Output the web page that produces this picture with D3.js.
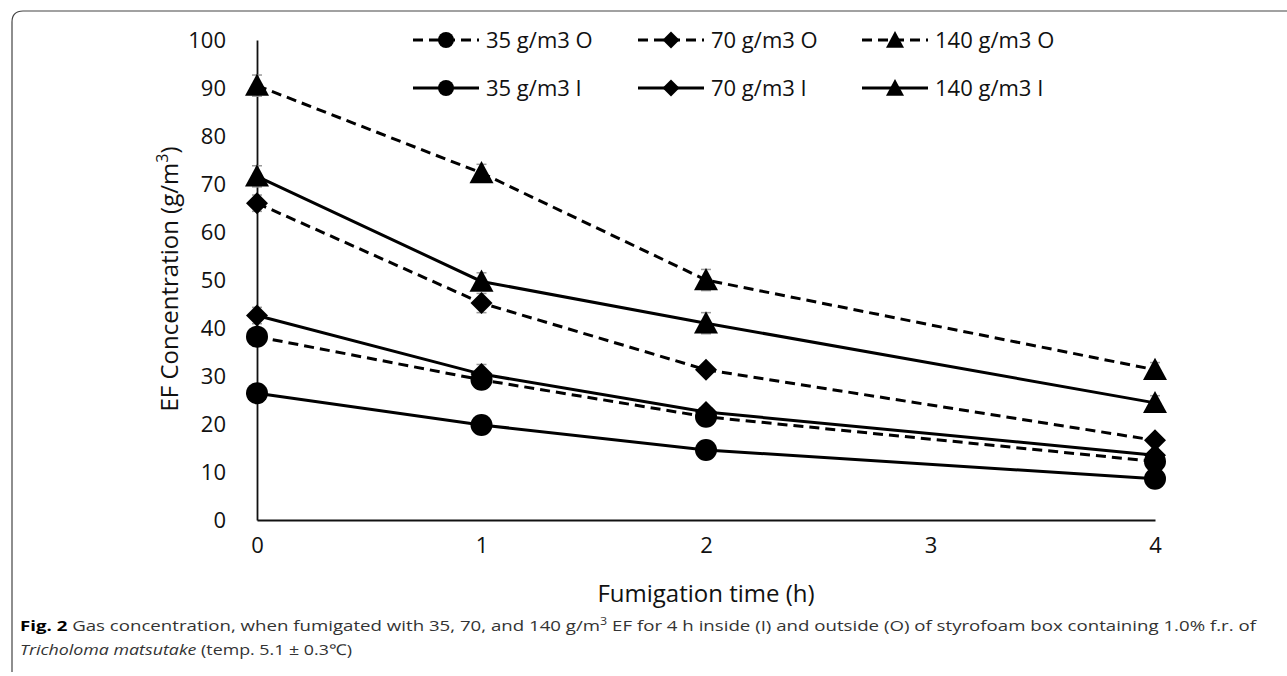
<!DOCTYPE html>
<html>
<head>
<meta charset="utf-8">
<script src="https://cdn.jsdelivr.net/npm/d3@7"></script>
<style>
  body { margin: 0; background: #fff; }
  svg { display: block; font-family: "Open Sans", sans-serif; }
</style>
</head>
<body>
<div class="chart"></div>
<script>
// fumigation time (h)
const times = [0, 1, 2, 4];
const xTicks = [0, 1, 2, 3, 4];
const yTicks = [0, 10, 20, 30, 40, 50, 60, 70, 80, 90, 100];

// EF concentration (g/m3)
const o35 = [38.2, 29.2, 21.5, 12.2];
const o70 = [66.0, 45.2, 31.3, 16.6];
const o140 = [90.5, 72.3, 50.0, 31.3];
const i35 = [26.4, 19.8, 14.6, 8.6];
const i70 = [42.6, 30.4, 22.5, 13.5];
const i140 = [71.6, 49.7, 41.0, 24.4];

// std error bars
const e35 = [0.8, 0.8, 0.6, 0.5];
const e70 = [1.7, 2.0, 1.0, 0.8];
const e140 = [2.2, 1.8, 2.2, 1.5];

const seriesNames = ["35 g/m3 O", "70 g/m3 O", "140 g/m3 O", "35 g/m3 I", "70 g/m3 I", "140 g/m3 I"];

const series = [
  {name: seriesNames[0], vals: o35, err: e35, shape: "circle", dash: true},
  {name: seriesNames[1], vals: o70, err: e70, shape: "diamond", dash: true},
  {name: seriesNames[2], vals: o140, err: e140, shape: "triangle", dash: true},
  {name: seriesNames[3], vals: i35, err: e35, shape: "circle", dash: false},
  {name: seriesNames[4], vals: i70, err: e70, shape: "diamond", dash: false},
  {name: seriesNames[5], vals: i140, err: e140, shape: "triangle", dash: false}
];

const width = 1287, height = 676;

const svg = d3.select(".chart").append("svg")
  .attr("width", width)
  .attr("height", height);

// frame of the figure panel (top + left edges, rounded corners)
svg.append("path")
  .attr("d", "M12,672 L12,22 Q12,11 23,11 L1287,11")
  .attr("fill", "none")
  .attr("stroke", "#444")
  .attr("stroke-width", 1.2);

const xScale = d3.scaleLinear()
  .domain([0, 4])
  .range([257, 1155]);

const yScale = d3.scaleLinear()
  .domain([0, 100])
  .range([520, 40]);

// axes
const yAxis = d3.axisLeft(yScale).tickValues(yTicks).tickSize(0).tickPadding(31);
svg.append("g")
  .attr("class", "axis y-axis")
  .attr("transform", "translate(257,0)")
  .call(yAxis);

const xAxis = d3.axisBottom(xScale).tickValues(xTicks).tickSize(0).tickPadding(17).tickFormat(d3.format("d"));
svg.append("g")
  .attr("class", "axis x-axis")
  .attr("transform", "translate(0,520)")
  .call(xAxis);

svg.selectAll(".axis path.domain")
  .attr("stroke", "#111")
  .attr("stroke-width", 1.8);
svg.selectAll(".axis text")
  .attr("font-size", 22)
  .attr("fill", "#111")
  .attr("font-family", "Open Sans, sans-serif");

// axis titles
const yTitle = svg.append("text")
  .attr("transform", "translate(178,279) rotate(-90)")
  .attr("text-anchor", "middle")
  .attr("font-size", 24)
  .attr("fill", "#111");
yTitle.append("tspan").text("EF Concentration (g/m");
yTitle.append("tspan").attr("font-size", 16).attr("dy", -10).text("3");
yTitle.append("tspan").attr("dy", 10).text(")");

svg.append("text")
  .attr("x", 706)
  .attr("y", 602)
  .attr("text-anchor", "middle")
  .attr("font-size", 24)
  .attr("fill", "#111")
  .text("Fumigation time (h)");

// marker shapes
function markerPath(shape, s) {
  if (shape === "circle") return d3.symbol(d3.symbolCircle, s * s * Math.PI)();
  if (shape === "diamond") return `M0,${-s}L${s},0L0,${s}L${-s},0Z`;
  return `M0,${-s * 1.0}L${s},${s * 0.85}L${-s},${s * 0.85}Z`;
}

const line = d3.line()
  .x((d, i) => xScale(times[i]))
  .y(d => yScale(d));

// error bars first (grey caps)
series.forEach(s => {
  const g = svg.append("g").attr("stroke", "#999").attr("stroke-width", 1.5);
  s.vals.forEach((v, i) => {
    const x = xScale(times[i]);
    const y1 = yScale(v + s.err[i]), y2 = yScale(v - s.err[i]);
    g.append("line").attr("x1", x).attr("x2", x).attr("y1", y1).attr("y2", y2);
    g.append("line").attr("x1", x - 5).attr("x2", x + 5).attr("y1", y1).attr("y2", y1);
    g.append("line").attr("x1", x - 5).attr("x2", x + 5).attr("y1", y2).attr("y2", y2);
  });
});

// lines and markers
series.forEach(s => {
  svg.append("path")
    .datum(s.vals)
    .attr("d", line)
    .attr("fill", "none")
    .attr("stroke", "#000")
    .attr("stroke-width", 3)
    .attr("stroke-dasharray", s.dash ? "10,6" : null);

  const size = s.shape === "circle" ? 11 : (s.shape === "diamond" ? 11 : 12);
  svg.selectAll(null)
    .data(s.vals)
    .enter()
    .append("path")
    .attr("d", markerPath(s.shape, size))
    .attr("transform", (d, i) => `translate(${xScale(times[i])},${yScale(d)})`)
    .attr("fill", "#000");
});

// legend, 2 rows x 3 columns
const legX = [413, 638, 862];
const legY = [40, 88];
series.forEach((s, k) => {
  const col = k % 3, row = Math.floor(k / 3);
  const g = svg.append("g").attr("transform", `translate(${legX[col]},${legY[row]})`);
  g.append("line")
    .attr("x1", 0).attr("x2", 66)
    .attr("y1", 0).attr("y2", 0)
    .attr("stroke", "#000")
    .attr("stroke-width", 3)
    .attr("stroke-dasharray", s.dash ? "10,6" : null);
  const ms = s.shape === "circle" ? 8 : (s.shape === "diamond" ? 8.5 : 9);
  g.append("path")
    .attr("d", markerPath(s.shape, ms))
    .attr("transform", "translate(33,0)")
    .attr("fill", "#000");
  g.append("text")
    .attr("x", 73)
    .attr("y", 8)
    .attr("font-size", 22)
    .attr("fill", "#111")
    .text(s.name);
});

// caption
const cap1 = svg.append("text")
  .attr("x", 20)
  .attr("y", 631)
  .attr("font-size", 15)
  .attr("fill", "#333")
  .attr("textLength", 1236)
  .attr("lengthAdjust", "spacingAndGlyphs");
cap1.append("tspan").attr("font-weight", "bold").attr("fill", "#000").text("Fig. 2");
cap1.append("tspan").text("  Gas concentration, when fumigated with 35, 70, and 140 g/m");
cap1.append("tspan").attr("font-size", 10).attr("dy", -6).text("3");
cap1.append("tspan").attr("dy", 6).text(" EF for 4 h inside (I) and outside (O) of styrofoam box containing 1.0% f.r. of");

const cap2 = svg.append("text")
  .attr("x", 20)
  .attr("y", 655)
  .attr("font-size", 15)
  .attr("fill", "#333")
  .attr("textLength", 332)
  .attr("lengthAdjust", "spacingAndGlyphs");
cap2.append("tspan").attr("font-style", "italic").text("Tricholoma matsutake");
cap2.append("tspan").text(" (temp. 5.1 ± 0.3℃)");
</script>
</body>
</html>
